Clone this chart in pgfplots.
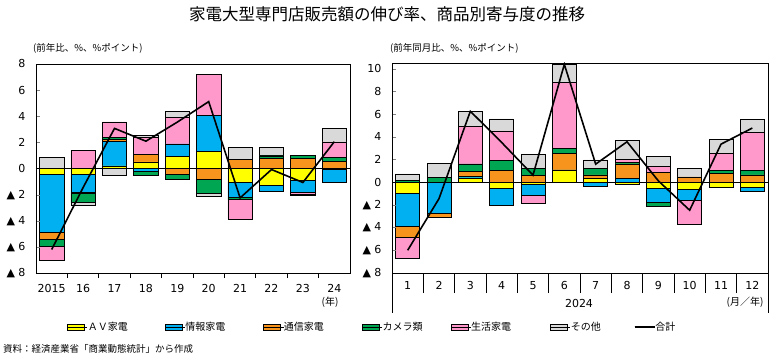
\documentclass[border=0pt]{standalone}
\usepackage{pgfplots}
\pgfplotsset{compat=1.18}
\usepackage{pgfplotstable}
\usepackage{fontspec}
\setmainfont{Noto Sans CJK JP}
\newfontfamily\numfont{DejaVu Sans}

\definecolor{cAV}{HTML}{FFFF00}
\definecolor{cInfo}{HTML}{00B0F0}
\definecolor{cComm}{HTML}{F7941D}
\definecolor{cCam}{HTML}{00A651}
\definecolor{cLife}{HTML}{FF99CC}
\definecolor{cOther}{HTML}{D9D9D9}

\pgfplotstableread{
x av info comm cam life other total
0 -0.48 -4.41 -0.51 -0.56 -1.10 0.87 -6.20
1 -0.48 -1.35 -0.05 -0.73 1.38 -0.23 -1.46
2 0.20 1.90 0.15 0.12 1.20 -0.50 3.07
3 0.50 -0.25 0.59 -0.25 1.30 0.15 2.09
4 0.92 0.97 -0.48 -0.38 2.00 0.46 3.55
5 1.32 2.73 -0.82 -1.07 3.18 -0.23 5.12
6 -1.07 -1.17 0.71 -0.15 -1.48 0.92 -2.25
7 -1.30 -0.41 0.76 0.20 0.05 0.62 -0.08
8 -0.92 -0.92 0.76 0.25 -0.15 -0.10 -1.07
9 -0.05 -1.02 0.56 0.30 1.17 1.04 2.05
}\annual

\pgfplotstableread{
x av info comm cam life other total
0 -0.94 -2.94 -0.94 0.15 -1.91 0.58 -6.00
1 0.00 -2.75 -0.35 0.45 0.00 1.20 -1.45
2 0.38 0.15 0.40 0.68 3.32 1.30 6.25
3 -0.50 -1.53 1.06 0.85 2.61 1.06 3.50
4 -0.20 -0.97 0.59 0.65 -0.65 1.20 0.62
5 1.03 0.05 1.44 0.47 5.80 1.60 10.38
6 0.35 -0.38 0.30 0.59 0.00 0.73 1.59
7 -0.15 0.35 1.26 0.10 0.30 1.70 3.56
8 -0.53 -1.26 0.88 -0.35 0.50 0.88 0.12
9 -0.62 -0.94 0.47 0.00 -2.14 0.76 -2.47
10 -0.44 0.00 0.76 0.29 1.50 1.23 3.35
11 -0.44 -0.35 0.65 0.41 3.35 1.15 4.77
}\monthly

\pgfplotsset{
  baseL/.style={scale only axis, width=314bp, height=209bp, at={(36bp,84bp)}, anchor=south west,
    xmin=-0.5, xmax=9.5, ymin=-8, ymax=8},
  baseR/.style={scale only axis, width=376bp, height=210bp, at={(392bp,84bp)}, anchor=south west,
    xmin=-0.5, xmax=11.5, ymin=-8, ymax=10.5},
  barsty/.style={ybar stacked, bar width=#1, every axis plot/.append style={draw=black, line width=0.6bp}},
  legbox/.style={legend image code/.code={\draw[##1] (0bp,-3bp) rectangle (17bp,3bp); \path (0bp,0bp)--(20bp,0bp);}},
  legline/.style={legend image code/.code={\draw[##1] (0bp,0bp)--(17bp,0bp); \path (0bp,0bp)--(20bp,0bp);}},
  vis/.style={axis line style={line width=0.8bp}, clip=false,
    xtick align=outside, ytick align=inside,
    every major x tick/.append style={draw=none},
    minor x tick style={line width=0.8bp, draw=black},
    xtick pos=bottom, ytick pos=left, major tick length=4bp,
    tick label style={font=\numfont\fontsize{11bp}{13bp}\selectfont},
    yticklabel style={xshift=-7bp},
  },
}

\newcommand{\posbars}[1]{%
  \addplot[fill=cAV, legbox] table[x=x, y expr={max(\thisrow{av},0)}] {#1};
  \addplot[fill=cInfo, legbox] table[x=x, y expr={max(\thisrow{info},0)}] {#1};
  \addplot[fill=cComm, legbox] table[x=x, y expr={max(\thisrow{comm},0)}] {#1};
  \addplot[fill=cCam, legbox] table[x=x, y expr={max(\thisrow{cam},0)}] {#1};
  \addplot[fill=cLife, legbox] table[x=x, y expr={max(\thisrow{life},0)}] {#1};
  \addplot[fill=cOther, legbox] table[x=x, y expr={max(\thisrow{other},0)}] {#1};
}
\newcommand{\negbars}[1]{%
  \addplot[fill=cAV] table[x=x, y expr={min(\thisrow{av},0)}] {#1};
  \addplot[fill=cInfo] table[x=x, y expr={min(\thisrow{info},0)}] {#1};
  \addplot[fill=cComm] table[x=x, y expr={min(\thisrow{comm},0)}] {#1};
  \addplot[fill=cCam] table[x=x, y expr={min(\thisrow{cam},0)}] {#1};
  \addplot[fill=cLife] table[x=x, y expr={min(\thisrow{life},0)}] {#1};
  \addplot[fill=cOther] table[x=x, y expr={min(\thisrow{other},0)}] {#1};
}

\begin{document}
\begin{tikzpicture}
\path[use as bounding box] (0,0) rectangle (775bp,357bp);

% ---------- left panel ----------
\begin{axis}[baseL, barsty=24.5bp, hide axis]
  \negbars{\annual}
\end{axis}
\begin{axis}[baseL, barsty=24.5bp, vis,
    xtick={0,...,9}, xticklabels={2015,16,17,18,19,20,21,22,23,24},
    xticklabel style={yshift=-4bp},
    minor xtick={0.5,1.5,...,8.5}, minor tick length=5bp,
    ytick={-8,-6,...,8}, yticklabels={▲ 8,▲ 6,▲ 4,▲ 2,0,2,4,6,8},
    legend columns=7,
    legend style={at={(0.0987,-0.2584)}, anchor=west, draw=none, fill=none, inner sep=0pt,
      column sep=0pt, nodes={inner sep=0pt, font=\fontsize{10bp}{12bp}\selectfont}},
  ]
  \posbars{\annual}
  \addlegendentry{\makebox[77bp][l]{ＡＶ家電}}
  \addlegendentry{\makebox[78bp][l]{情報家電}}
  \addlegendentry{\makebox[78bp][l]{通信家電}}
  \addlegendentry{\makebox[68bp][l]{カメラ類}}
  \addlegendentry{\makebox[79bp][l]{生活家電}}
  \addlegendentry{\makebox[63bp][l]{その他}}
  \addlegendimage{black, line width=1.5bp, legline}
  \addlegendentry{合計}
\end{axis}
\begin{axis}[baseL, hide axis]
  \addplot[black, line width=0.9bp] coordinates {(-0.5,0) (9.5,0)};
  \addplot[black, line width=1.6bp, sharp plot, mark=none] table[x=x, y=total] {\annual};
\end{axis}

% ---------- right panel ----------
\begin{axis}[baseR, barsty=24bp, hide axis]
  \negbars{\monthly}
\end{axis}
\begin{axis}[baseR, barsty=24bp, vis,
    xtick={0,...,11}, xticklabels={1,2,3,4,5,6,7,8,9,10,11,12},
    xticklabel style={yshift=-1bp},
    minor xtick={0.5,1.5,...,10.5}, minor tick length=20bp,
    ytick={-8,-6,...,10}, yticklabels={▲ 8,▲ 6,▲ 4,▲ 2,0,2,4,6,8,10},
  ]
  \posbars{\monthly}
  \draw[line width=0.8bp] (rel axis cs:0,0) -- ++(0bp,-40bp);
  \draw[line width=0.8bp] (rel axis cs:1,0) -- ++(0bp,-40bp);
\end{axis}
\begin{axis}[baseR, hide axis]
  \addplot[black, line width=0.9bp] coordinates {(-0.5,0) (11.5,0)};
  \addplot[black, line width=1.6bp, sharp plot, mark=none] table[x=x, y=total] {\monthly};
\end{axis}

% ---------- texts ----------
\node[font=\fontsize{16.5bp}{19bp}\selectfont] at (387bp,343bp) {家電大型専門店販売額の伸び率、商品別寄与度の推移};
\node[anchor=west, inner sep=0pt, font=\fontsize{9.5bp}{11bp}\selectfont] at (33bp,309bp) {(前年比、\%、\%ポイント)};
\node[anchor=west, inner sep=0pt, font=\fontsize{9.5bp}{11bp}\selectfont] at (390bp,309bp) {(前年同月比、\%、\%ポイント)};
\node[font=\fontsize{10bp}{12bp}\selectfont] at (330bp,55bp) {(年)};
\node[font=\numfont\fontsize{11bp}{13bp}\selectfont] at (579bp,54bp) {2024};
\node[font=\fontsize{10bp}{12bp}\selectfont] at (745bp,55bp) {(月／年)};
\node[anchor=west, inner sep=0pt, font=\fontsize{9.5bp}{11bp}\selectfont] at (3bp,8bp) {資料：経済産業省「商業動態統計」から作成};
\end{tikzpicture}
\end{document}
